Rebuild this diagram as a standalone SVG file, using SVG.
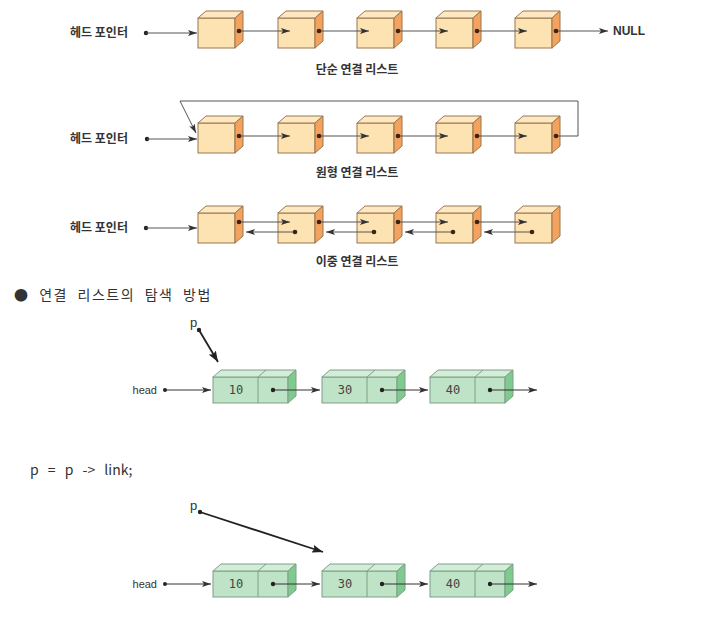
<svg xmlns="http://www.w3.org/2000/svg" xmlns:xlink="http://www.w3.org/1999/xlink" width="708" height="630" viewBox="0 0 708 630">
<style>
.bg{fill:#ffffff}
.cf{fill:#fde3b1;stroke:#9a7650;stroke-width:1}
.ct{fill:#fde8c2;stroke:#9a7650;stroke-width:1}
.cs{fill:#f3a35e;stroke:#9a7650;stroke-width:1}
.gf{fill:#bfe3c6;stroke:#7f9e86;stroke-width:1}
.gt{fill:#d3eed8;stroke:#7f9e86;stroke-width:1}
.gs{fill:#7fcb8f;stroke:#7f9e86;stroke-width:1}
.ln{fill:none;stroke:#555;stroke-width:1}
.lnk{fill:none;stroke:#333;stroke-width:1}
.pl{fill:none;stroke:#222;stroke-width:1.8}
.dot{fill:#3a2414}
.gdot{fill:#222}
.kb{font-family:"Noto Sans CJK KR","Noto Sans",sans-serif;font-weight:bold;font-size:12px;fill:#333}
.kt{font-family:"Noto Sans CJK KR","Noto Sans",sans-serif;font-size:14px;fill:#333}
.num{font-family:"DejaVu Sans Mono",monospace;font-size:12px;fill:#444}
.en{font-family:"Liberation Sans",Arial,sans-serif;font-size:11px;fill:#333}
.nul{font-family:"Liberation Sans",Arial,sans-serif;font-weight:bold;font-size:12px;fill:#333}
.pp{font-family:"Liberation Sans",Arial,sans-serif;font-size:13px;fill:#333}
</style>
<defs>
<marker id="ah" viewBox="0 0 9 6" refX="9" refY="3" markerWidth="9" markerHeight="6" markerUnits="userSpaceOnUse" orient="auto">
<path d="M0,0 L9,3 L0,6 L2,3 z" fill="#333"/>
</marker>
<marker id="ahb" viewBox="0 0 11 8" refX="11" refY="4" markerWidth="11" markerHeight="8" markerUnits="userSpaceOnUse" orient="auto">
<path d="M0,0 L11,4 L0,8 L2,4 z" fill="#222"/>
</marker>
<g id="cube">
<rect class="cf" x="0" y="0" width="37" height="30"/>
<path class="ct" d="M0,0 L8,-7 L45,-7 L37,0 z"/>
<path class="cs" d="M37,0 L45,-7 L45,23 L37,30 z"/>
</g>
<g id="gnode">
<rect class="gf" x="0" y="0" width="75" height="26"/>
<path class="gt" d="M0,0 L8,-7 L83,-7 L75,0 z"/>
<path class="gs" d="M75,0 L83,-7 L83,19 L75,26 z"/>
<line class="gf" x1="45" y1="0" x2="45" y2="26"/>
<line class="gt" x1="45" y1="0" x2="53" y2="-7"/>
</g>
</defs>
<rect class="bg" x="0" y="0" width="708" height="630"/>

<!-- Singly linked list -->
<g id="single">
<text class="kb" x="70" y="37">헤드 포인터</text>
<g id="s1"><use xlink:href="#cube" x="198" y="18"/></g>
<g id="s2"><use xlink:href="#cube" x="278" y="18"/></g>
<g id="s3"><use xlink:href="#cube" x="357" y="18"/></g>
<g id="s4"><use xlink:href="#cube" x="436" y="18"/></g>
<g id="s5"><use xlink:href="#cube" x="515" y="18"/></g>
<text class="nul" x="613" y="35">NULL</text>
<text class="kb" x="357" y="74" text-anchor="middle">단순 연결 리스트</text>
</g>

<!-- Circular linked list -->
<g id="circular">
<text class="kb" x="70" y="143">헤드 포인터</text>
<g id="c1"><use xlink:href="#cube" x="198" y="123"/></g>
<g id="c2"><use xlink:href="#cube" x="278" y="123"/></g>
<g id="c3"><use xlink:href="#cube" x="357" y="123"/></g>
<g id="c4"><use xlink:href="#cube" x="436" y="123"/></g>
<g id="c5"><use xlink:href="#cube" x="515" y="123"/></g>
<text class="kb" x="357" y="177" text-anchor="middle">원형 연결 리스트</text>
</g>

<!-- Doubly linked list -->
<g id="doubly">
<text class="kb" x="70" y="232">헤드 포인터</text>
<g id="d1"><use xlink:href="#cube" x="198" y="213"/></g>
<g id="d2"><use xlink:href="#cube" x="278" y="213"/></g>
<g id="d3"><use xlink:href="#cube" x="357" y="213"/></g>
<g id="d4"><use xlink:href="#cube" x="436" y="213"/></g>
<g id="d5"><use xlink:href="#cube" x="515" y="213"/></g>
<text class="kb" x="357" y="266" text-anchor="middle">이중 연결 리스트</text>
</g>

<!-- Search section -->
<g id="heading">
<text class="kt" x="14" y="300" letter-spacing="1.5" word-spacing="5">● 연결 리스트의 탐색 방법</text>
<text class="kt" x="30" y="475" word-spacing="6">p = p -&gt; link;</text>
</g>

<g id="top-nodes">
<text class="en" x="157" y="394" text-anchor="end">head</text>
<text class="pp" x="190" y="327">p</text>
<g id="n10a"><use xlink:href="#gnode" x="213" y="377"/><text class="num" x="236" y="394" text-anchor="middle">10</text></g>
<g id="n30a"><use xlink:href="#gnode" x="322" y="377"/><text class="num" x="345" y="394" text-anchor="middle">30</text></g>
<g id="n40a"><use xlink:href="#gnode" x="430" y="377"/><text class="num" x="453" y="394" text-anchor="middle">40</text></g>
</g>

<g id="bottom-nodes">
<text class="en" x="157" y="588" text-anchor="end">head</text>
<text class="pp" x="190" y="510">p</text>
<g id="n10b"><use xlink:href="#gnode" x="213" y="571"/><text class="num" x="236" y="588" text-anchor="middle">10</text></g>
<g id="n30b"><use xlink:href="#gnode" x="322" y="571"/><text class="num" x="345" y="588" text-anchor="middle">30</text></g>
<g id="n40b"><use xlink:href="#gnode" x="430" y="571"/><text class="num" x="453" y="588" text-anchor="middle">40</text></g>
</g>

<g id="connectors">
<!-- singly -->
<circle class="gdot" cx="146" cy="33" r="2.2"/>
<line class="ln" x1="146" y1="33" x2="197" y2="33" marker-end="url(#ah)"/>
<line class="ln" x1="239" y1="31" x2="290" y2="31" marker-end="url(#ah)"/>
<line class="ln" x1="319" y1="31" x2="369" y2="31" marker-end="url(#ah)"/>
<line class="ln" x1="398" y1="31" x2="448" y2="31" marker-end="url(#ah)"/>
<line class="ln" x1="477" y1="31" x2="527" y2="31" marker-end="url(#ah)"/>
<line class="ln" x1="556" y1="31" x2="608" y2="31" marker-end="url(#ah)"/>
<circle class="dot" cx="239" cy="31" r="2.3"/>
<circle class="dot" cx="319" cy="31" r="2.3"/>
<circle class="dot" cx="398" cy="31" r="2.3"/>
<circle class="dot" cx="477" cy="31" r="2.3"/>
<circle class="dot" cx="556" cy="31" r="2.3"/>
<!-- circular -->
<circle class="gdot" cx="147" cy="139" r="2.2"/>
<line class="ln" x1="147" y1="139" x2="197" y2="139" marker-end="url(#ah)"/>
<line class="ln" x1="239" y1="136" x2="290" y2="136" marker-end="url(#ah)"/>
<line class="ln" x1="319" y1="136" x2="369" y2="136" marker-end="url(#ah)"/>
<line class="ln" x1="398" y1="136" x2="448" y2="136" marker-end="url(#ah)"/>
<line class="ln" x1="477" y1="136" x2="527" y2="136" marker-end="url(#ah)"/>
<path class="ln" d="M556,136 H578 V101 H180 L196,133" marker-end="url(#ah)"/>
<circle class="dot" cx="239" cy="136" r="2.3"/>
<circle class="dot" cx="319" cy="136" r="2.3"/>
<circle class="dot" cx="398" cy="136" r="2.3"/>
<circle class="dot" cx="477" cy="136" r="2.3"/>
<circle class="dot" cx="556" cy="136" r="2.3"/>
<!-- doubly -->
<circle class="gdot" cx="146" cy="228" r="2.2"/>
<line class="ln" x1="146" y1="228" x2="197" y2="228" marker-end="url(#ah)"/>
<line class="ln" x1="239" y1="222" x2="290" y2="222" marker-end="url(#ah)"/>
<line class="ln" x1="319" y1="222" x2="369" y2="222" marker-end="url(#ah)"/>
<line class="ln" x1="398" y1="222" x2="448" y2="222" marker-end="url(#ah)"/>
<line class="ln" x1="477" y1="222" x2="527" y2="222" marker-end="url(#ah)"/>
<line class="ln" x1="295" y1="232" x2="246" y2="232" marker-end="url(#ah)"/>
<line class="ln" x1="374" y1="232" x2="326" y2="232" marker-end="url(#ah)"/>
<line class="ln" x1="453" y1="232" x2="405" y2="232" marker-end="url(#ah)"/>
<line class="ln" x1="532" y1="232" x2="484" y2="232" marker-end="url(#ah)"/>
<circle class="dot" cx="239" cy="222" r="2.3"/>
<circle class="dot" cx="319" cy="222" r="2.3"/>
<circle class="dot" cx="398" cy="222" r="2.3"/>
<circle class="dot" cx="477" cy="222" r="2.3"/>
<circle class="dot" cx="295" cy="232" r="2.3"/>
<circle class="dot" cx="374" cy="232" r="2.3"/>
<circle class="dot" cx="453" cy="232" r="2.3"/>
<circle class="dot" cx="532" cy="232" r="2.3"/>
<!-- search top -->
<circle class="gdot" cx="165" cy="390" r="2"/>
<line class="lnk" x1="165" y1="390" x2="211" y2="390" marker-end="url(#ah)"/>
<line class="lnk" x1="273" y1="390" x2="320" y2="390" marker-end="url(#ah)"/>
<line class="lnk" x1="382" y1="390" x2="428" y2="390" marker-end="url(#ah)"/>
<line class="lnk" x1="490" y1="390" x2="537" y2="390" marker-end="url(#ah)"/>
<circle class="gdot" cx="273" cy="390" r="2.2"/>
<circle class="gdot" cx="382" cy="390" r="2.2"/>
<circle class="gdot" cx="490" cy="390" r="2.2"/>
<circle class="gdot" cx="199" cy="330" r="2.2"/>
<line class="pl" x1="199" y1="330" x2="218" y2="362" marker-end="url(#ahb)"/>
<!-- search bottom -->
<circle class="gdot" cx="165" cy="584" r="2"/>
<line class="lnk" x1="165" y1="584" x2="211" y2="584" marker-end="url(#ah)"/>
<line class="lnk" x1="273" y1="584" x2="320" y2="584" marker-end="url(#ah)"/>
<line class="lnk" x1="382" y1="584" x2="428" y2="584" marker-end="url(#ah)"/>
<line class="lnk" x1="490" y1="584" x2="537" y2="584" marker-end="url(#ah)"/>
<circle class="gdot" cx="273" cy="584" r="2.2"/>
<circle class="gdot" cx="382" cy="584" r="2.2"/>
<circle class="gdot" cx="490" cy="584" r="2.2"/>
<circle class="gdot" cx="200" cy="512" r="2.2"/>
<line class="pl" x1="200" y1="512" x2="323" y2="552" marker-end="url(#ahb)"/>
</g>
</svg>
